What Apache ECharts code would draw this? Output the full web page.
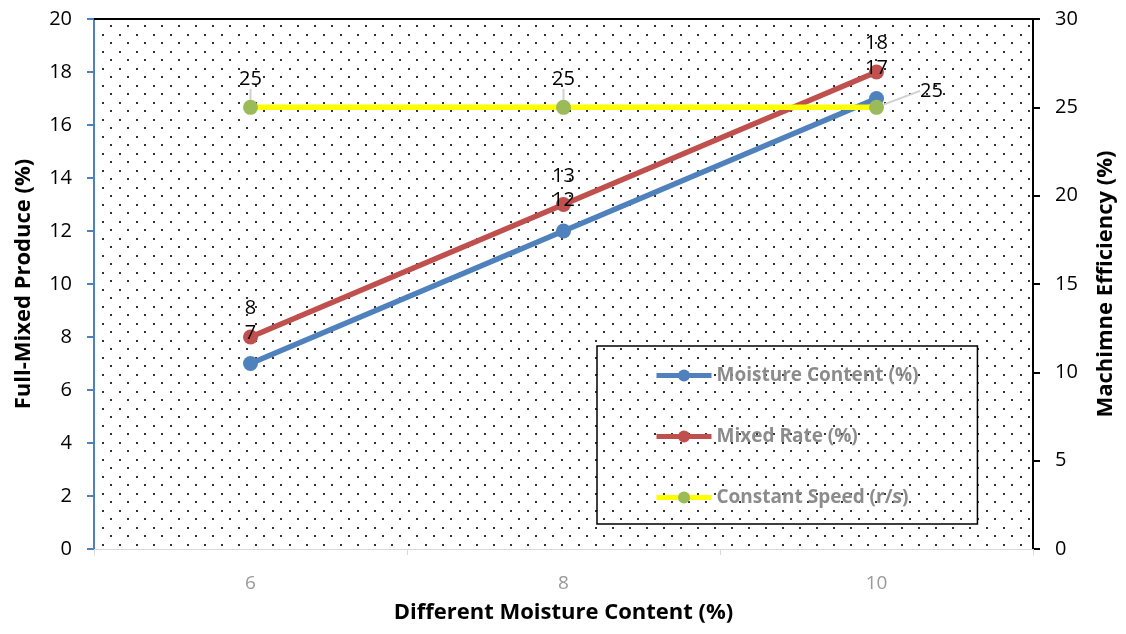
<!DOCTYPE html>
<html>
<head>
<meta charset="utf-8">
<script src="https://cdn.jsdelivr.net/npm/echarts@6/dist/echarts.min.js"></script>
<style>
  html, body { margin: 0; padding: 0; background: #fff; }
  #chart { width: 1126px; height: 634px; }
</style>
</head>
<body>
<div id="chart"></div>
<script>
// Chart data
const categories = ['6', '8', '10'];
const moistureContent = [7, 12, 17];
const mixedRate = [8, 13, 18];
const constantSpeed = [25, 25, 25];

const FONT = 'Open Sans';

// Dotted fill for the plot area
function dotPattern() {
  const c = document.createElement('canvas');
  c.width = 17; c.height = 17;
  const g = c.getContext('2d');
  g.fillStyle = '#333';
  g.fillRect(0, 0, 2, 2);
  g.fillRect(8, 8, 2, 2);
  return c;
}

const chart = echarts.init(document.getElementById('chart'), null, { renderer: 'canvas' });

const labelBase = {
  show: true,
  position: 'top',
  distance: 13,
  color: '#000',
  fontFamily: FONT,
  fontSize: 20
};

const titleStyle = { color: '#000', fontFamily: FONT, fontSize: 22, fontWeight: 'bold' };

chart.setOption({
  backgroundColor: '#fff',
  animation: false,
  grid: {
    left: 94, right: 93, top: 19, bottom: 85,
    show: true,
    borderWidth: 0,
    backgroundColor: { image: dotPattern(), repeat: 'repeat' }
  },
  legend: {
    orient: 'vertical',
    left: 597, top: 346,
    padding: [20, 59, 17, 57],
    itemGap: 42,
    itemWidth: 55,
    itemHeight: 15,
    borderColor: '#000',
    borderWidth: 1.5,
    lineStyle: { width: 5 },
    textStyle: { color: '#8c8c8c', fontFamily: FONT, fontSize: 19, fontWeight: 'bold' },
    data: ['Moisture Content (%)', 'Mixed Rate (%)', 'Constant Speed (r/s)']
  },
  xAxis: [{
    type: 'category',
    data: categories,
    boundaryGap: true,
    name: 'Different Moisture Content (%)',
    nameLocation: 'middle',
    nameGap: 53,
    nameTextStyle: titleStyle,
    axisLine: { onZero: false, lineStyle: { color: '#d9d9d9', width: 1 } },
    axisTick: { show: true, length: 6, lineStyle: { color: '#d9d9d9' } },
    axisLabel: { color: '#999', fontFamily: FONT, fontSize: 19, margin: 25 },
    splitLine: { show: false }
  }, {
    type: 'category',
    data: categories,
    position: 'top',
    axisLine: { onZero: false, lineStyle: { color: '#000', width: 2 } },
    axisTick: { show: false },
    axisLabel: { show: false }
  }],
  yAxis: [{
    type: 'value',
    min: 0, max: 20, interval: 2,
    name: 'Full-Mixed Produce (%)',
    nameLocation: 'middle',
    nameGap: 59,
    nameTextStyle: titleStyle,
    axisLine: { show: true, onZero: false, lineStyle: { color: '#4f81bd', width: 2 } },
    axisTick: { show: true, length: 7, lineStyle: { color: '#4f81bd', width: 2 } },
    axisLabel: { color: '#000', fontFamily: FONT, fontSize: 20, margin: 22 },
    splitLine: { show: false }
  }, {
    type: 'value',
    min: 0, max: 30, interval: 5,
    name: 'Machimne Efficiency (%)',
    nameLocation: 'middle',
    nameGap: 62,
    nameRotate: 90,
    nameTextStyle: titleStyle,
    axisLine: { show: true, onZero: false, lineStyle: { color: '#000', width: 2 } },
    axisTick: { show: true, length: 7, lineStyle: { color: '#000', width: 2 } },
    axisLabel: { color: '#000', fontFamily: FONT, fontSize: 20, margin: 22 },
    splitLine: { show: false }
  }],
  series: [{
    name: 'Moisture Content (%)',
    type: 'line',
    data: moistureContent,
    yAxisIndex: 0,
    symbol: 'circle',
    symbolSize: 15,
    lineStyle: { color: '#4f81bd', width: 5.5 },
    itemStyle: { color: '#4f81bd' },
    label: labelBase
  }, {
    name: 'Mixed Rate (%)',
    type: 'line',
    data: mixedRate,
    yAxisIndex: 0,
    symbol: 'circle',
    symbolSize: 15,
    lineStyle: { color: '#c0504d', width: 5.5 },
    itemStyle: { color: '#c0504d' },
    label: Object.assign({}, labelBase, { distance: 11 })
  }, {
    name: 'Constant Speed (r/s)',
    type: 'line',
    data: constantSpeed,
    yAxisIndex: 1,
    symbol: 'circle',
    symbolSize: 15,
    lineStyle: { color: '#ffff00', width: 5.5 },
    itemStyle: { color: '#9bbb59' },
    label: Object.assign({}, labelBase, { distance: 11 }),
    labelLine: { show: true, lineStyle: { color: '#d0d0d0', width: 2 } },
    labelLayout: function (params) {
      if (params.dataIndex === 2) {
        return { dx: 55, dy: 12 };
      }
      return {};
    }
  }]
});
</script>
</body>
</html>
